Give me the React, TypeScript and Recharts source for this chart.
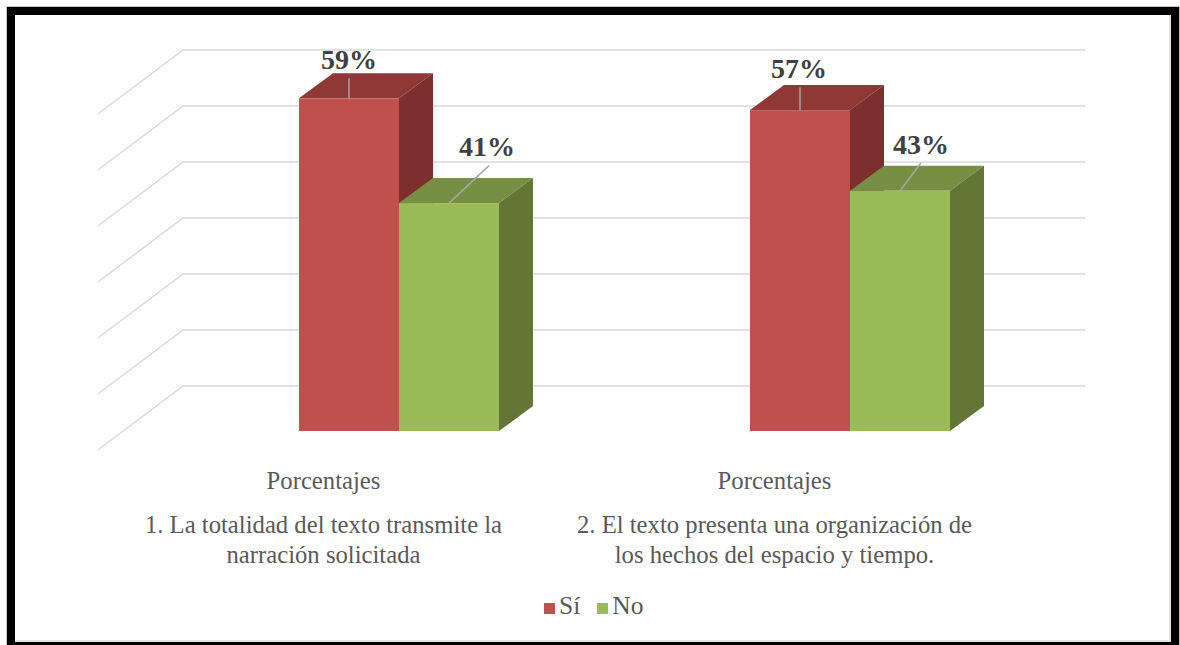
import { BarChart, Bar, XAxis, YAxis, ReferenceLine, Legend, LabelList } from 'recharts';

const CATEGORIES = [
  '1. La totalidad del texto transmite la\nnarración solicitada',
  '2. El texto presenta una organización de\nlos hechos del espacio y tiempo.',
];
const GROUP_LABEL = 'Porcentajes';
const SI_VALUES = [59.4, 57.3];
const NO_VALUES = [40.7, 42.9];
const Y_TICKS = [0, 10, 20, 30, 40, 50, 60];

const data = CATEGORIES.map((name, i) => ({ name, si: SI_VALUES[i], no: NO_VALUES[i] }));

const FONT = '"Liberation Serif", serif';
const TEXT_COLOR = '#595959';
const GRID_COLOR = '#d9d9d9';

// how far the 3D box goes back
const DEPTH_X = 34;
const DEPTH_Y = -25;

// leader line end, relative to the top centre of the bar
const SI_LEADERS = [{ dx: 0, dy: -20, textDx: 0 }, { dx: 0, dy: -22.5, textDx: -1 }];
const NO_LEADERS = [{ dx: 40, dy: -37.5, textDx: -2 }, { dx: 21, dy: -27.7, textDx: 0 }];

function Box3D({ x, y, width, height, front, top, side }: any) {
  const r = x + width;
  const b = y + height;
  return (
    <g>
      <polygon points={`${x},${y} ${x + DEPTH_X},${y + DEPTH_Y} ${r + DEPTH_X},${y + DEPTH_Y} ${r},${y}`} fill={top} />
      <polygon points={`${r},${y} ${r + DEPTH_X},${y + DEPTH_Y} ${r + DEPTH_X},${b + DEPTH_Y} ${r},${b}`} fill={side} />
      <rect x={x} y={y} width={width} height={height} fill={front} />
    </g>
  );
}

// left wall plus back wall for one grid value
function GridLine({ x1, x2, y1 }: any) {
  const wallX = x1 - 75;
  const backX = x1 + 10;
  const backY = y1 - 45;
  return (
    <polyline
      points={`${wallX},${y1 + 19} ${backX},${backY} ${x2 + 10},${backY}`}
      fill="none"
      stroke={GRID_COLOR}
      strokeWidth={1.5}
    />
  );
}

function CategoryTick({ x, payload }: any) {
  const lines = String(payload.value).split('\n');
  const cx = x - 75;
  return (
    <g fontFamily={FONT} fontSize={24.7} fill={TEXT_COLOR} textAnchor="middle">
      <text x={cx} y={489}>{GROUP_LABEL}</text>
      <text x={cx} y={533}>{lines[0]}</text>
      <text x={cx} y={563}>{lines[1]}</text>
    </g>
  );
}

const leaderLabel = (leaders: any[]) => (props: any) => {
  const { x, y, width, value, index } = props;
  const l = leaders[index];
  const cx = x + width / 2;
  return (
    <g>
      <line x1={cx} y1={y} x2={cx + l.dx} y2={y + l.dy} stroke="#a6a6a6" strokeWidth={1.5} />
      <text
        x={cx + l.dx + l.textDx}
        y={y + l.dy - 9.5}
        textAnchor="middle"
        fontFamily={FONT}
        fontSize={28}
        fontWeight="bold"
        fill="#404040"
      >
        {Math.round(value)}%
      </text>
    </g>
  );
};

export default function App() {
  return (
    <div style={{ position: 'absolute', left: 0, top: 0, width: 1180, height: 645, background: '#fff' }}>
      <BarChart
        width={1180}
        height={645}
        data={data}
        margin={{ top: 95, right: 105, bottom: 213, left: 173 }}
        barSize={100}
        barGap={0}
      >
        <XAxis dataKey="name" axisLine={false} tickLine={false} interval={0} tick={<CategoryTick />} height={1} />
        <YAxis width={0} domain={[0, 60]} ticks={Y_TICKS} interval={0} tick={false} axisLine={false} tickLine={false} />
        {Y_TICKS.map((t) => (
          <ReferenceLine key={t} y={t} ifOverflow="visible" zIndex={-100} shape={(p: any) => <GridLine {...p} />} />
        ))}
        <Legend
          iconType="square"
          iconSize={11}
          verticalAlign="middle"
          itemSorter={null}
          wrapperStyle={{ position: 'absolute', left: 544, top: 591, width: 'auto', fontFamily: FONT, fontSize: 25.5 }}
          formatter={(v: string) => <span style={{ color: TEXT_COLOR, marginRight: 7 }}>{v}</span>}
        />
        <Bar
          dataKey="si"
          name="Sí"
          fill="#C0504D"
          isAnimationActive={false}
          shape={(p: any) => <Box3D {...p} front="#C0504D" top="#8F3836" side="#7D2F2D" />}
        >
          <LabelList dataKey="si" content={leaderLabel(SI_LEADERS)} />
        </Bar>
        <Bar
          dataKey="no"
          name="No"
          fill="#9BBB59"
          isAnimationActive={false}
          shape={(p: any) => <Box3D {...p} front="#9BBB59" top="#778F42" side="#647635" />}
        >
          <LabelList dataKey="no" content={leaderLabel(NO_LEADERS)} />
        </Bar>
      </BarChart>
      {/* black frame round the picture */}
      <div
        style={{
          position: 'absolute',
          left: 7,
          top: 7,
          width: 1172,
          height: 638,
          boxSizing: 'border-box',
          borderStyle: 'solid',
          borderColor: '#000',
          borderWidth: '8px 8px 3px 8px',
          boxShadow: 'inset -2px -2px 0 #e3e3e3, 0 0 0 1px #c4c4c4',
          pointerEvents: 'none',
        }}
      />
    </div>
  );
}
